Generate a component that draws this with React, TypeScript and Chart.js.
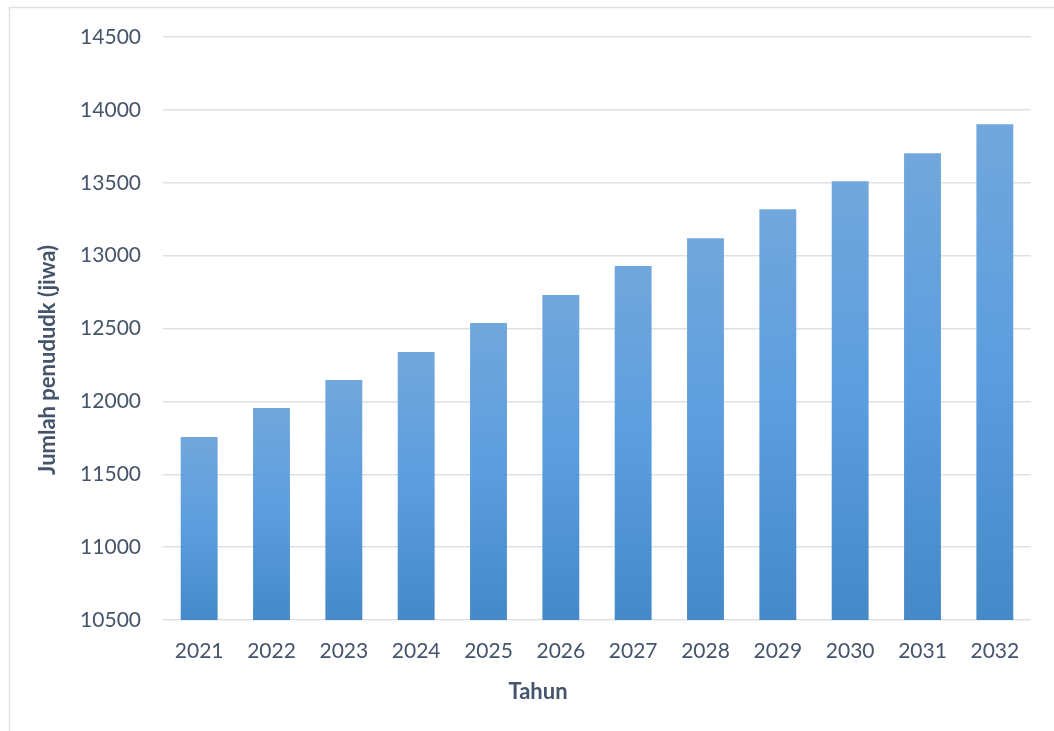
import React, { useEffect, useRef } from "react";
import { Chart, registerables } from "chart.js";

Chart.register(...registerables);

const years = ["2021", "2022", "2023", "2024", "2025", "2026", "2027", "2028", "2029", "2030", "2031", "2032"];
const population = [11755, 11955, 12147, 12338, 12537, 12729, 12928, 13120, 13319, 13511, 13703, 13902];
const yMin = 10500;
const yMax = 14500;
const yStep = 500;
const yTitle = "Jumlah penududk (jiwa)";
const xTitle = "Tahun";

const TEXT = "#44546a";
const FONT = "Lato, 'Open Sans', sans-serif";

const framePlugin = {
  id: "frameAndTitles",
  beforeDraw(chart: any) {
    const c = chart.ctx;
    c.save();
    c.fillStyle = "#ffffff";
    c.fillRect(0, 0, chart.width, chart.height);
    c.strokeStyle = "#dce1e7";
    c.lineWidth = 1.5;
    c.strokeRect(9.5, 7.5, 1200, 900);
    c.restore();
  },
  afterDraw(chart: any) {
    const c = chart.ctx;
    c.save();
    c.fillStyle = TEXT;
    c.font = `bold 22px ${FONT}`;
    c.textAlign = "center";
    c.textBaseline = "middle";
    c.fillText(xTitle, 538, 692);
    c.translate(48, 360);
    c.rotate(-Math.PI / 2);
    c.fillText(yTitle, 0, 0);
    c.restore();
  },
};

export default function App() {
  const ref = useRef<HTMLCanvasElement>(null);
  useEffect(() => {
    if (!ref.current) return;
    const chart = new Chart(ref.current, {
      type: "bar",
      data: {
        labels: years,
        datasets: [
          {
            data: population,
            barPercentage: 0.51,
            categoryPercentage: 1,
            backgroundColor: (ctx: any) => {
              const ch = ctx.chart;
              if (!ch.chartArea || ctx.raw == null) return "#5b9bd5";
              const ys = ch.scales.y;
              const top = ys.getPixelForValue(ctx.raw);
              const bottom = ys.getPixelForValue(yMin);
              const g = ch.ctx.createLinearGradient(0, top, 0, bottom);
              g.addColorStop(0, "#71a7dc");
              g.addColorStop(0.5, "#5b9ddf");
              g.addColorStop(1, "#4589c8");
              return g;
            },
          },
        ],
      },
      options: {
        animation: false,
        responsive: false,
        maintainAspectRatio: false,
        layout: { padding: { left: 0, right: 23, top: 37, bottom: 0 } },
        plugins: { legend: { display: false }, tooltip: { enabled: false } },
        scales: {
          x: {
            grid: { display: false },
            border: { display: false },
            ticks: { color: TEXT, font: { family: FONT, size: 21 }, padding: 11 },
            afterFit: (s: any) => {
              s.height = 111;
            },
          },
          y: {
            min: yMin,
            max: yMax,
            grid: { color: "#dde1e6", lineWidth: 1.5, drawTicks: false },
            border: { display: false },
            ticks: {
              stepSize: yStep,
              color: TEXT,
              font: { family: FONT, size: 21 },
              padding: 22,
              callback: (v: any) => String(v),
            },
            afterFit: (s: any) => {
              s.width = 163;
            },
          },
        },
      },
      plugins: [framePlugin],
    });
    return () => chart.destroy();
  }, []);
  return (
    <div style={{ position: "absolute", left: 0, top: 0, width: 1054, height: 731, overflow: "hidden" }}>
      <canvas ref={ref} width={1054} height={731} style={{ display: "block" }} />
    </div>
  );
}
